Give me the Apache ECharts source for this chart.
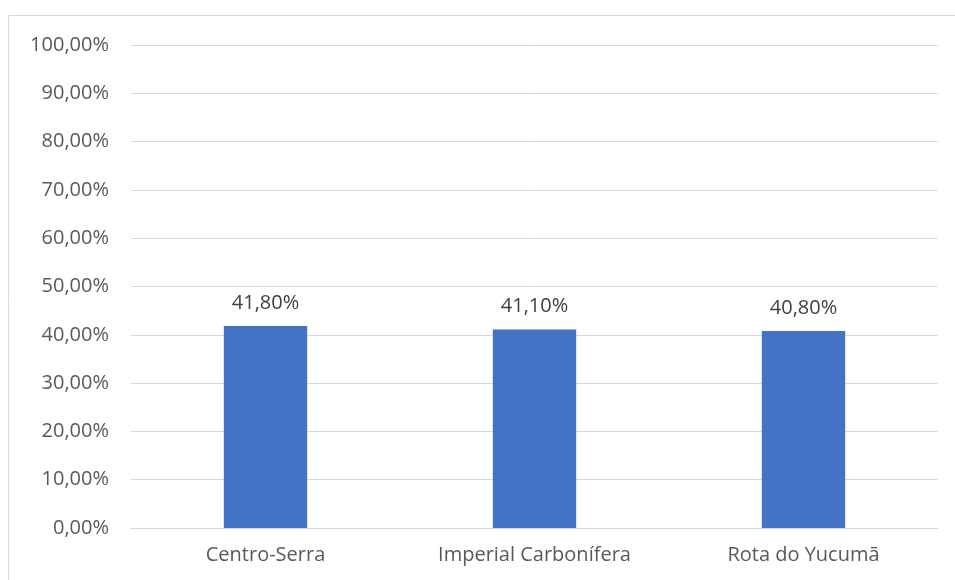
<!DOCTYPE html>
<html><head><meta charset="utf-8">
<script src="https://cdn.jsdelivr.net/npm/echarts@6/dist/echarts.min.js"></script>
<style>html,body{margin:0;padding:0;background:#fff}#c{width:955px;height:580px}</style>
</head><body><div id="c"></div>
<script>
var categories = ['Centro-Serra', 'Imperial Carbonífera', 'Rota do Yucumã'];
var values = [41.8, 41.1, 40.8];
var yTicks = [0, 10, 20, 30, 40, 50, 60, 70, 80, 90, 100];

function pct(v) { return v.toFixed(2).replace('.', ',') + '%'; }

var chart = echarts.init(document.getElementById('c'));
chart.setOption({
  animation: false,
  textStyle: { fontFamily: 'Open Sans' },
  graphic: [{
    type: 'rect', shape: { x: 8.5, y: 15.5, width: 1000, height: 1000 },
    style: { fill: 'none', stroke: '#d9d9d9', lineWidth: 1 }, silent: true
  }],
  grid: { left: 131, right: 17, top: 45, bottom: 52, containLabel: false },
  xAxis: {
    type: 'category', data: categories,
    axisLine: { show: true, lineStyle: { color: '#d9d9d9' } },
    axisTick: { show: false },
    axisLabel: { color: '#595959', fontSize: 20, margin: 17 }
  },
  yAxis: {
    type: 'value', min: yTicks[0], max: yTicks[yTicks.length - 1], interval: 10,
    axisLine: { show: false }, axisTick: { show: false },
    splitLine: { lineStyle: { color: '#d9d9d9' } },
    axisLabel: { color: '#595959', fontSize: 20, margin: 22, formatter: function (v) { return pct(v); } }
  },
  series: [{
    type: 'bar', data: values, barWidth: '31%',
    itemStyle: { color: '#4472c4' },
    label: { show: true, position: 'top', distance: 13, color: '#404040', fontSize: 20,
      formatter: function (p) { return pct(p.value); } }
  }]
});
</script></body></html>
